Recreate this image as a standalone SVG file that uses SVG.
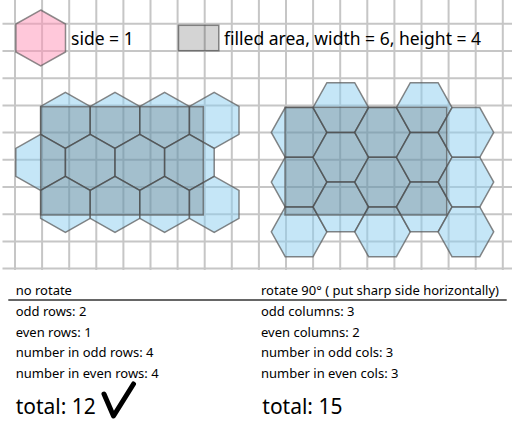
<svg xmlns="http://www.w3.org/2000/svg" xmlns:xlink="http://www.w3.org/1999/xlink" width="521" height="431" viewBox="0 0 521 431">
<style>
.grid{stroke:#c6c6c6;stroke-width:2;fill:none}
.hex{fill:#8ccdf0;fill-opacity:0.5;stroke:#5e5e5e;stroke-opacity:0.75;stroke-width:1.5}
.pink{fill:#ff92b5;fill-opacity:0.5;stroke:#5e5e5e;stroke-opacity:0.7;stroke-width:1.5}
.area{fill:#000;fill-opacity:0.17;stroke:#555;stroke-opacity:0.7;stroke-width:1.5}
.t{font-family:"Noto Sans","Liberation Sans",sans-serif;fill:#000}
.leg{font-size:17.5px}
.small{font-size:13px}
.big{font-size:21px}
</style>
<defs>
<polygon id="hp" points="0,-28 24.8,-14 24.8,14 0,28 -24.8,14 -24.8,-14"/>
<polygon id="hf" points="-27.8,0 -13.9,-24.85 13.9,-24.85 27.8,0 13.9,24.85 -13.9,24.85"/>
</defs>
<rect width="521" height="431" fill="#fff"/>
<g id="grid">
<path class="grid" d="M15,0V270M42.1,0V270M69.2,0V270M96.3,0V270M123.4,0V270M150.5,0V270M177.6,0V270M204.7,0V270M231.8,0V270M258.9,0V270M286,0V270M313.1,0V270M340.2,0V270M367.3,0V270M394.4,0V270M421.5,0V270M448.6,0V270M475.7,0V270M502.8,0V270"/>
<path class="grid" d="M2.5,23.8H512M2.5,51H512M2.5,78.2H512M2.5,105.4H512M2.5,132.6H512M2.5,159.8H512M2.5,187H512M2.5,214.2H512M2.5,241.4H512M2.5,268.6H512"/>
</g>
<g id="legend-hex">
<use href="#hp" class="pink" x="40.7" y="38"/>
<text class="t leg" x="71" y="44.5">side = 1</text>
</g>
<g id="legend-area">
<rect class="area" x="178.5" y="25.3" width="40.3" height="25.4"/>
<text class="t leg" x="224" y="44.5">filled area, width = 6, height = 4</text>
</g>
<g id="no-rotate">
<g id="row1">
<use href="#hp" class="hex" x="65.4" y="120.4"/>
<use href="#hp" class="hex" x="115" y="120.4"/>
<use href="#hp" class="hex" x="164.6" y="120.4"/>
<use href="#hp" class="hex" x="214.2" y="120.4"/>
</g>
<g id="row2">
<use href="#hp" class="hex" x="40.6" y="162.4"/>
<use href="#hp" class="hex" x="90.2" y="162.4"/>
<use href="#hp" class="hex" x="139.8" y="162.4"/>
<use href="#hp" class="hex" x="189.4" y="162.4"/>
</g>
<g id="row3">
<use href="#hp" class="hex" x="65.4" y="204.4"/>
<use href="#hp" class="hex" x="115" y="204.4"/>
<use href="#hp" class="hex" x="164.6" y="204.4"/>
<use href="#hp" class="hex" x="214.2" y="204.4"/>
</g>
<rect id="area-left" class="area" x="40.7" y="106.7" width="162.6" height="108.3"/>
</g>
<g id="rotate90">
<g id="col1">
<use href="#hf" class="hex" x="299.1" y="132.4"/>
<use href="#hf" class="hex" x="299.1" y="182.1"/>
<use href="#hf" class="hex" x="299.1" y="231.8"/>
</g>
<g id="col2">
<use href="#hf" class="hex" x="340.8" y="107.55"/>
<use href="#hf" class="hex" x="340.8" y="157.25"/>
<use href="#hf" class="hex" x="340.8" y="206.95"/>
</g>
<g id="col3">
<use href="#hf" class="hex" x="382.5" y="132.4"/>
<use href="#hf" class="hex" x="382.5" y="182.1"/>
<use href="#hf" class="hex" x="382.5" y="231.8"/>
</g>
<g id="col4">
<use href="#hf" class="hex" x="424.2" y="107.55"/>
<use href="#hf" class="hex" x="424.2" y="157.25"/>
<use href="#hf" class="hex" x="424.2" y="206.95"/>
</g>
<g id="col5">
<use href="#hf" class="hex" x="465.9" y="132.4"/>
<use href="#hf" class="hex" x="465.9" y="182.1"/>
<use href="#hf" class="hex" x="465.9" y="231.8"/>
</g>
<rect id="area-right" class="area" x="285" y="107.3" width="161.7" height="107.7"/>
</g>
<g id="notes">
<text class="t small" x="15.7" y="295">no rotate</text>
<text class="t small" x="261" y="295">rotate 90° ( put sharp side horizontally)</text>
<line x1="8.3" y1="300" x2="506.7" y2="300" stroke="#333" stroke-width="1.5"/>
<text class="t small" x="15.7" y="316">odd rows: 2</text>
<text class="t small" x="15.7" y="336.5">even rows: 1</text>
<text class="t small" x="15.7" y="357">number in odd rows: 4</text>
<text class="t small" x="15.7" y="377.5">number in even rows: 4</text>
<text class="t big" x="15.7" y="414">total: 12</text>
<path d="M104,394 L113.5,416 L133.5,384" fill="none" stroke="#000" stroke-width="5" stroke-linejoin="round" stroke-linecap="round"/>
<text class="t small" x="261" y="316">odd columns: 3</text>
<text class="t small" x="261" y="336.5">even columns: 2</text>
<text class="t small" x="261" y="357">number in odd cols: 3</text>
<text class="t small" x="261" y="377.5">number in even cols: 3</text>
<text class="t big" x="262.3" y="414">total: 15</text>
</g>
</svg>
